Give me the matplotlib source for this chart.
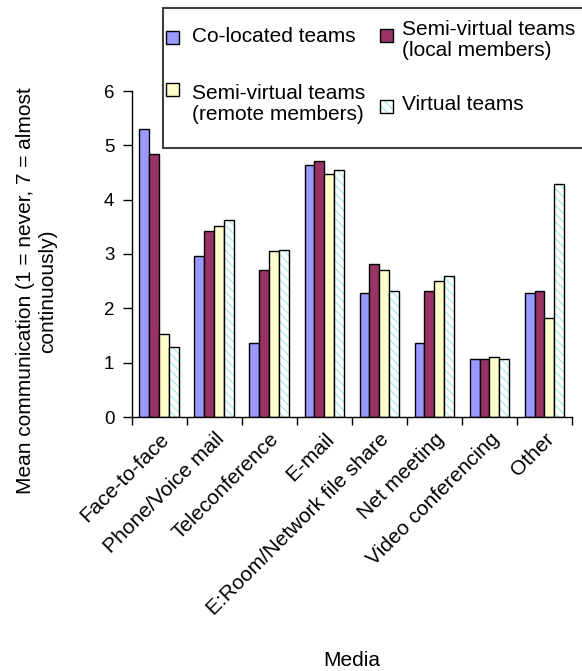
import matplotlib
matplotlib.use("Agg")
import matplotlib.pyplot as plt
from matplotlib.patches import Rectangle
import numpy as np

plt.rcParams['font.family'] = ['Liberation Sans', 'DejaVu Sans']
plt.rcParams['hatch.linewidth'] = 0.9

categories = ["Face-to-face", "Phone/Voice mail", "Teleconference", "E-mail",
              "E:Room/Network file share", "Net meeting", "Video conferencing", "Other"]
co_located = [5.30, 2.96, 1.37, 4.63, 2.29, 1.37, 1.07, 2.29]
semi_local = [4.84, 3.42, 2.71, 4.72, 2.81, 2.32, 1.07, 2.32]
semi_remote = [1.53, 3.51, 3.05, 4.47, 2.71, 2.50, 1.10, 1.83]
virtual = [1.29, 3.63, 3.08, 4.55, 2.32, 2.59, 1.07, 4.29]

series_labels = ["Co-located teams", "Semi-virtual teams\n(local members)",
                 "Semi-virtual teams\n(remote members)", "Virtual teams"]
fills = ["#9999ff", "#993366", "#ffffcc", "white"]
hatches = [None, None, None, "\\\\\\\\"]
hatch_color = "#a6ecec"

W, H = 582, 671
fig = plt.figure(figsize=(W / 100, H / 100), dpi=100)
ax = fig.add_axes([131.7 / W, 1 - 417 / H, 440.3 / W, 326 / H])

x = np.arange(len(categories))
w = 0.18
for i, vals in enumerate([co_located, semi_local, semi_remote, virtual]):
    pos = x + (i - 1.5) * w
    if hatches[i]:
        ax.bar(pos, vals, width=w, facecolor=fills[i], edgecolor=hatch_color,
               hatch=hatches[i], linewidth=0, zorder=2)
        ax.bar(pos, vals, width=w, facecolor="none", edgecolor="black",
               linewidth=1.0, zorder=3)
    else:
        ax.bar(pos, vals, width=w, facecolor=fills[i], edgecolor="black",
               linewidth=1.0, zorder=2)

ax.set_xlim(-0.5, len(categories) - 0.5)
ax.set_ylim(0, 6)
ax.set_yticks(range(0, 7))
ax.set_xticks(np.arange(-0.5, len(categories), 1.0))
ax.set_xticklabels([])
ax.set_xticks(x, minor=True)
ax.set_xticklabels(categories, minor=True, rotation=45, ha="right", va="top",
                   rotation_mode="anchor", fontsize=15)
ax.tick_params(axis="x", which="minor", length=0, pad=9)
ax.tick_params(axis="x", which="major", length=6, direction="out", width=1)
ax.tick_params(axis="y", length=6.5, direction="out", width=1, labelsize=13.5, pad=6)
for s in ["top", "right"]:
    ax.spines[s].set_visible(False)
for s in ["left", "bottom"]:
    ax.spines[s].set_linewidth(1.0)

fig.text(37 / W, 1 - 291 / H,
         "Mean communication (1 = never, 7 = almost\ncontinuously)",
         rotation=90, ha="center", va="center", multialignment="center", fontsize=15)
fig.text(352 / W, 1 - 660 / H, "Media", ha="center", va="center", fontsize=15)

# legend box
fig.patches.append(Rectangle((163 / W, 1 - 148 / H), 440 / W, 140 / H,
                             transform=fig.transFigure, facecolor="white",
                             edgecolor="#404040", linewidth=1.5, zorder=5))

def key(px, py, i):
    fig.patches.append(Rectangle((px / W, 1 - (py + 13) / H), 13 / W, 13 / H,
                                 transform=fig.transFigure, facecolor=fills[i],
                                 edgecolor=hatch_color if hatches[i] else "black",
                                 hatch=hatches[i], linewidth=0 if hatches[i] else 1.0,
                                 zorder=6))
    if hatches[i]:
        fig.patches.append(Rectangle((px / W, 1 - (py + 13) / H), 13 / W, 13 / H,
                                     transform=fig.transFigure, facecolor="none",
                                     edgecolor="black", linewidth=1.0, zorder=7))

key(166, 31, 0)
fig.text(192 / W, 1 - 37 / H, series_labels[0], fontsize=15, va="center", zorder=8)
key(380, 29, 1)
fig.text(402 / W, 1 - 40 / H, series_labels[1], fontsize=15, va="center",
         linespacing=1.1, zorder=8)
key(166, 83, 2)
fig.text(192 / W, 1 - 104 / H, series_labels[2], fontsize=15, va="center",
         linespacing=1.1, zorder=8)
key(380, 100, 3)
fig.text(402 / W, 1 - 104 / H, series_labels[3], fontsize=15, va="center", zorder=8)

fig.savefig("out.png", dpi=100)
